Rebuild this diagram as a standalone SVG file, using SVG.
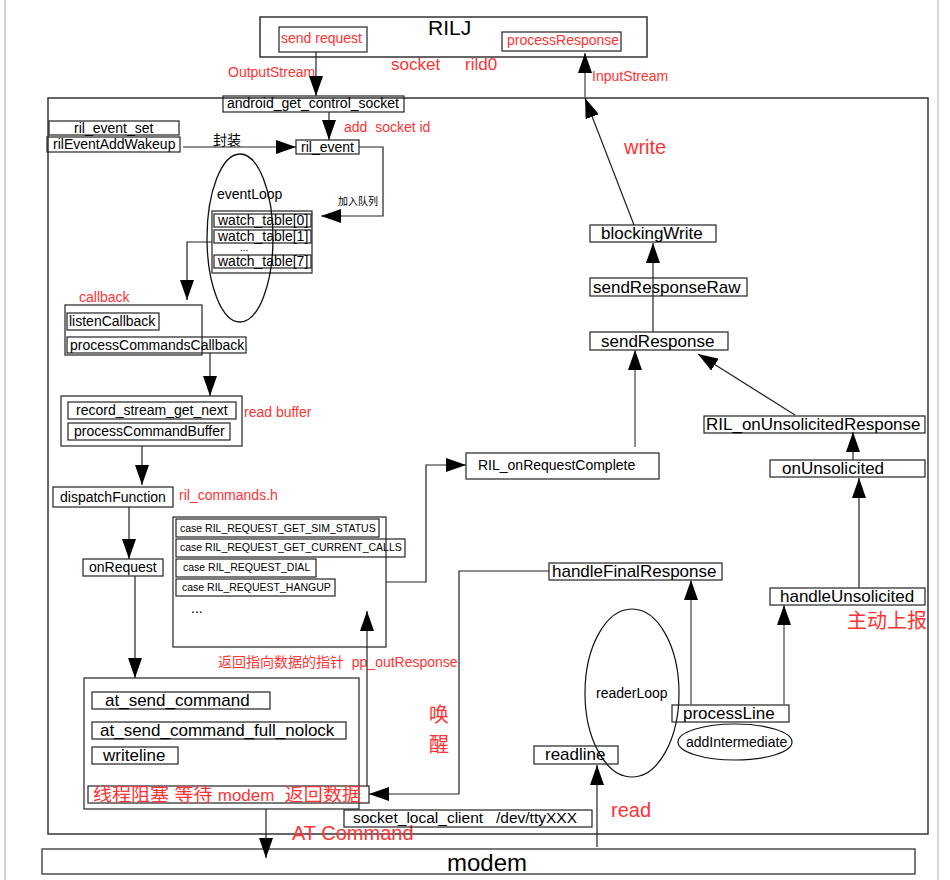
<svg xmlns="http://www.w3.org/2000/svg" width="950" height="880" viewBox="0 0 950 880">
<style>
.box{fill:none;stroke:#222;stroke-width:1.2}
.frame{fill:none;stroke:#333;stroke-width:1.5}
.t{font-family:"Liberation Sans",Arial,"Noto Sans CJK SC",sans-serif;fill:#000}
.r{fill:#ff3333}
.c{fill:none;stroke:#222;stroke-width:1.2}
.cg{fill:none;stroke:#666;stroke-width:1.5}
.s14{font-size:14px}
.s17{font-size:17px}
.s20{font-size:20px}
</style>
<defs>
<marker id="ah" markerUnits="userSpaceOnUse" markerWidth="20" markerHeight="14" refX="20" refY="7" orient="auto">
<path d="M0,0 L20,7 L0,14 z" fill="#000"/>
</marker>
</defs>
<rect width="950" height="880" fill="#fff"/>
<line x1="5" y1="0" x2="5" y2="880" stroke="#d0d0d0" stroke-width="2"/>
<line x1="938" y1="0" x2="938" y2="880" stroke="#d8d8d8" stroke-width="2"/>

<g id="main-frame"><rect class="frame" x="48" y="98" width="880" height="736"/></g>

<g id="rilj">
<rect class="frame" x="260" y="17" width="387" height="40"/>
<text class="t" x="428" y="35" font-size="21">RILJ</text>
</g>
<g id="send-request"><rect class="box" x="279" y="27" width="88" height="25"/><text class="t r s14" x="281" y="43">send request</text></g>
<g id="process-response"><rect class="box" x="502" y="32" width="119" height="19"/><text class="t r s14" x="507" y="45">processResponse</text></g>

<g id="labels">
<text class="t r s14" x="228" y="77">OutputStream</text>
<text class="t r s17" x="391" y="70">socket</text>
<text class="t r s17" x="465" y="70">rild0</text>
<text class="t r s14" x="592" y="81">InputStream</text>
<text class="t r s20" x="624" y="154">write</text>
<text class="t r s14" x="344" y="132" xml:space="preserve">add  socket id</text>
<text class="t s14" x="213" y="145">封装</text>
<text class="t" x="338" y="205" font-size="10">加入队列</text>
<text class="t r s14" x="79" y="302">callback</text>
<text class="t r s14" x="244" y="417">read buffer</text>
<text class="t r s14" x="179" y="500">ril_commands.h</text>
<text class="t r s14" x="218" y="667" xml:space="preserve">返回指向数据的指针  pp_outResponse</text>
<text class="t r s20" x="429" y="722">唤</text>
<text class="t r s20" x="429" y="752">醒</text>
<text class="t r s20" x="847" y="628">主动上报</text>
<text class="t r s20" x="611" y="817">read</text>
<text class="t r s20" x="292" y="840">AT Command</text>
</g>

<g id="android-get-control-socket"><rect class="box" x="223" y="96" width="181" height="16"/><text class="t s14" x="227" y="108">android_get_control_socket</text></g>
<g id="ril-event-set"><rect class="box" x="49" y="121" width="130" height="14"/><text class="t s14" x="74" y="133">ril_event_set</text></g>
<g id="ril-event-add-wakeup"><rect class="box" x="47" y="137" width="133" height="15"/><text class="t s14" x="53" y="148.5">rilEventAddWakeup</text></g>
<g id="ril-event"><rect class="box" x="296" y="140" width="63" height="14"/><text class="t s14" x="301" y="152">ril_event</text></g>

<g id="event-loop">
<text class="t s14" x="217" y="199">eventLoop</text>
<rect class="box" x="212" y="211" width="100" height="62"/>
<rect class="box" x="214" y="214" width="97" height="13"/><text class="t s14" x="218" y="225">watch_table[0]</text>
<rect class="box" x="214" y="230" width="97" height="13"/><text class="t s14" x="218" y="241">watch_table[1]</text>
<text class="t" x="240" y="251" font-size="10">...</text>
<rect class="box" x="214" y="255" width="97" height="13"/><text class="t s14" x="218" y="266">watch_table[7]</text>
<ellipse cx="240" cy="238" rx="33" ry="84" fill="none" stroke="#111" stroke-width="1.3"/>
</g>

<g id="callbacks">
<rect class="box" x="65" y="305" width="137" height="50"/>
<rect class="box" x="67" y="313" width="92" height="17"/><text class="t s14" x="69" y="326">listenCallback</text>
<rect class="box" x="67" y="337" width="179" height="16"/><text class="t s14" x="70" y="350">processCommandsCallback</text>
</g>

<g id="record-stream">
<rect class="box" x="61" y="396" width="181" height="50"/>
<rect class="box" x="68" y="402" width="168" height="17"/><text class="t s14" x="76" y="415">record_stream_get_next</text>
<rect class="box" x="68" y="423" width="162" height="17"/><text class="t s14" x="74" y="436">processCommandBuffer</text>
</g>

<g id="dispatch-function"><rect class="box" x="53" y="487" width="120" height="20"/><text class="t s14" x="60" y="502">dispatchFunction</text></g>
<g id="on-request"><rect class="box" x="83" y="559" width="80" height="17"/><text class="t s14" x="89" y="572">onRequest</text></g>

<g id="ril-commands">
<rect class="box" x="173" y="517" width="213" height="130"/>
<rect class="box" x="176" y="519" width="203" height="18"/><text class="t" x="180" y="532" font-size="10.5">case RIL_REQUEST_GET_SIM_STATUS</text>
<rect class="box" x="176" y="539" width="229" height="18"/><text class="t" x="180" y="551" font-size="10.5">case RIL_REQUEST_GET_CURRENT_CALLS</text>
<rect class="box" x="176" y="559" width="140" height="18"/><text class="t" x="183" y="571" font-size="10.5">case RIL_REQUEST_DIAL</text>
<rect class="box" x="176" y="579" width="159" height="17"/><text class="t" x="182" y="591" font-size="10.5">case RIL_REQUEST_HANGUP</text>
<text class="t s14" x="191" y="613">...</text>
</g>

<g id="at-commands">
<rect class="box" x="84" y="678" width="275" height="131"/>
<rect class="box" x="92" y="692" width="178" height="17"/><text class="t s17" x="105" y="706">at_send_command</text>
<rect class="box" x="92" y="722" width="254" height="17"/><text class="t s17" x="100" y="736">at_send_command_full_nolock</text>
<rect class="box" x="92" y="747" width="86" height="17"/><text class="t s17" x="103" y="761">writeline</text>
<rect class="box" x="88" y="786" width="281" height="17"/><text class="t r" x="93" y="801" font-size="18" textLength="268" lengthAdjust="spacingAndGlyphs" xml:space="preserve">线程阻塞 等待 <tspan font-size="16">modem</tspan>  返回数据</text>
</g>

<g id="socket-local-client"><rect class="box" x="344" y="810" width="248" height="17"/><text class="t" x="353" y="823" font-size="15.5" xml:space="preserve">socket_local_client   /dev/ttyXXX</text></g>
<g id="modem"><rect class="box" x="42" y="849" width="873" height="25"/><text class="t" x="447" y="871" font-size="24">modem</text></g>

<g id="ril-on-request-complete"><rect class="box" x="466" y="453" width="193" height="26"/><text class="t s14" x="478" y="470">RIL_onRequestComplete</text></g>
<g id="blocking-write"><rect class="box" x="590" y="225" width="126" height="17"/><text class="t s17" x="601" y="239">blockingWrite</text></g>
<g id="send-response-raw"><rect class="box" x="590" y="278" width="157" height="18"/><text class="t s17" x="593" y="293">sendResponseRaw</text></g>
<g id="send-response"><rect class="box" x="590" y="332" width="138" height="18" stroke-width="1.6"/><text class="t s17" x="601" y="347">sendResponse</text></g>
<g id="ril-on-unsolicited-response"><rect class="box" x="704" y="416" width="221" height="17" stroke-width="1.6"/><text class="t s17" x="706" y="430">RIL_onUnsolicitedResponse</text></g>
<g id="on-unsolicited"><rect class="box" x="770" y="460" width="155" height="17"/><text class="t s17" x="782" y="474">onUnsolicited</text></g>
<g id="handle-unsolicited"><rect class="box" x="770" y="588" width="155" height="17"/><text class="t s17" x="780" y="602">handleUnsolicited</text></g>
<g id="handle-final-response"><rect class="box" x="549" y="563" width="173" height="17"/><text class="t s17" x="552" y="577">handleFinalResponse</text></g>

<g id="reader-loop">
<text class="t s14" x="596" y="698">readerLoop</text>
<ellipse cx="632" cy="693" rx="47" ry="84" fill="none" stroke="#111" stroke-width="1.2"/>
</g>
<g id="process-line"><rect class="box" x="672" y="705" width="117" height="17"/><text class="t s17" x="683" y="719">processLine</text></g>
<g id="add-intermediate"><ellipse cx="735" cy="742" rx="57" ry="18" fill="none" stroke="#111" stroke-width="1.2"/><text class="t s14" x="686" y="747">addIntermediate</text></g>
<g id="readline"><rect class="box" x="534" y="746" width="84" height="18"/><text class="t s17" x="545" y="760">readline</text></g>

<g id="connectors">
<path class="c" d="M316,52 V96" marker-end="url(#ah)"/>
<path class="c" d="M329,112 V140" marker-end="url(#ah)"/>
<path class="c" d="M183,147 H296" marker-end="url(#ah)"/>
<path class="c" d="M359,147 H383 V216 H321" marker-end="url(#ah)"/>
<path class="c" d="M212,242 H187 V300" marker-end="url(#ah)"/>
<path class="c" d="M210,353 V396" marker-end="url(#ah)"/>
<path class="c" d="M142,446 V485" marker-end="url(#ah)"/>
<path class="c" d="M129,507 V559" marker-end="url(#ah)"/>
<path class="c" d="M135,576 V678" marker-end="url(#ah)"/>
<path class="c" d="M266,809 V858" marker-end="url(#ah)"/>
<path class="c" d="M386,582 H426 V465 H466" marker-end="url(#ah)"/>
<path class="cg" d="M635,447 V350" marker-end="url(#ah)"/>
<path class="c" d="M653,332 V243" marker-end="url(#ah)"/>
<path class="c" d="M634,225 L585,98" marker-end="url(#ah)"/>
<path class="cg" d="M585,98 V53" marker-end="url(#ah)"/>
<path class="c" d="M795,415 L698,354" marker-end="url(#ah)"/>
<path class="c" d="M853,460 V432" marker-end="url(#ah)"/>
<path class="c" d="M859,588 V478" marker-end="url(#ah)"/>
<path class="cg" d="M691,705 V580" marker-end="url(#ah)"/>
<path class="cg" d="M784,705 V605" marker-end="url(#ah)"/>
<path class="c" d="M597,847 V765" marker-end="url(#ah)"/>
<path class="c" d="M549,571 H459 V794 H369" marker-end="url(#ah)"/>
<path class="c" d="M367,786 V611" marker-end="url(#ah)"/>
</g>
</svg>
